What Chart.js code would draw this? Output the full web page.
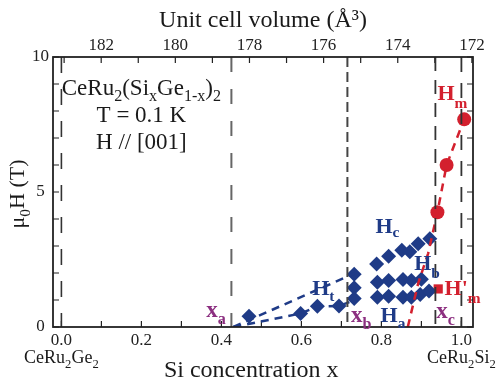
<!DOCTYPE html>
<html>
<head>
<meta charset="utf-8">
<script src="https://cdn.jsdelivr.net/npm/chart.js@4.4.1/dist/chart.umd.min.js"></script>
<style>
  html, body { margin: 0; padding: 0; background: #fff; }
</style>
</head>
<body>
<canvas id="chart" width="498" height="384"></canvas>
<script>
const FONT = "'Liberation Serif', 'Times New Roman', serif";
const BLUE = '#1f3b87';
const RED = '#d3202e';
const PURPLE = '#8c2f80';
const INK = '#1a1a1a';

// tick labels
const siTicks = [0, 0.2, 0.4, 0.6, 0.8, 1.0];
const volumeTicks = [172, 174, 176, 178, 180, 182];
const fieldTicks = [0, 5, 10];

// blue diamonds (Ht, Ha, Hb, Hc)
const diamondX = [0.469, 0.598, 0.64, 0.694,
    0.732, 0.732, 0.732,
    0.788, 0.818, 0.851, 0.871, 0.892, 0.921,
    0.79, 0.818, 0.854, 0.875, 0.9,
    0.79, 0.818, 0.854, 0.875, 0.897, 0.919];
const diamondH = [0.4, 0.5, 0.77, 0.78,
    1.95, 1.45, 1.06,
    2.33, 2.62, 2.84, 2.79, 3.08, 3.27,
    1.66, 1.72, 1.76, 1.72, 1.77,
    1.1, 1.14, 1.1, 1.1, 1.2, 1.33];

// red circles (Hm) and red square (H'm)
const hmX = [0.94, 0.963, 1.007];
const hmH = [4.25, 6.0, 7.69];
const hmPrimeX = [0.942];
const hmPrimeH = [1.41];

// dashed guide lines
const htLowerX = [0.43, 0.598, 0.64, 0.694, 0.72];
const htLowerH = [0, 0.5, 0.76, 0.78, 0.92];
const htUpperX = [0.43, 0.75];
const htUpperH = [0, 2.1];
const hmLineX = [0.866, 0.892, 0.917, 0.94, 0.963, 1.007, 1.012];
const hmLineH = [0, 1.62, 2.73, 4.25, 6.0, 7.7, 7.97];

// vertical boundaries: x=0, xa, xb, xc, x=1
const boundaryX = [0, 0.425, 0.715, 0.935, 1.0];
const boundaryStyle = [
    { color: '#333', dash: [16, 16], width: 1.6 },
    { color: '#666', dash: [15, 17], width: 2 },
    { color: '#444', dash: [10, 5], width: 2 },
    { color: '#333', dash: [14, 9], width: 1.8 },
    { color: '#333', dash: [15, 11], width: 1.8 }
];

const pts = (xs, hs) => xs.map((x, i) => ({ x, y: hs[i] }));

const notes = [
    { parts: [['CeRu'], ['2', 'sub'], ['(Si'], ['x', 'sub'], ['Ge'], ['1-x', 'sub'], [')'], ['2', 'sub']], x: 0.2, h: 8.59, size: 23, color: INK, align: 'center', sub: 0.26 },
    { parts: [['T = 0.1 K']], x: 0.2, h: 7.6, size: 23, color: INK, align: 'center' },
    { parts: [['H // [001]']], x: 0.2, h: 6.6, size: 23, color: INK, align: 'center' },
    { parts: [['H'], ['m', 'sub']], x: 0.94, h: 8.41, size: 22, color: RED, bold: true, sub: 0.35 },
    { parts: [['H'], ['c', 'sub']], x: 0.785, h: 3.5, size: 22, color: BLUE, bold: true, sub: 0.2 },
    { parts: [['H'], ['b', 'sub']], x: 0.882, h: 2.11, size: 22, color: BLUE, bold: true, sub: 0.35 },
    { parts: [['H'], ['t', 'sub']], x: 0.627, h: 1.19, size: 22, color: BLUE, bold: true, sub: 0.3 },
    { parts: [['H'], ['a', 'sub']], x: 0.798, h: 0.2, size: 22, color: BLUE, bold: true, sub: 0.3 },
    { parts: [['H'], ["'"], ['m', 'sub']], x: 0.958, h: 1.19, size: 22, color: RED, bold: true, sub: 0.35 },
    { parts: [['x'], ['a', 'sub']], x: 0.362, h: 0.37, size: 23, color: PURPLE, bold: true, sub: 0.3 },
    { parts: [['x'], ['b', 'sub']], x: 0.724, h: 0.2, size: 23, color: PURPLE, bold: true, sub: 0.3 },
    { parts: [['x'], ['c', 'sub']], x: 0.937, h: 0.33, size: 23, color: PURPLE, bold: true, sub: 0.3 }
];

const endMembers = [
    { x: 0, parts: [['CeRu'], ['2', 'sub'], ['Ge'], ['2', 'sub']] },
    { x: 1, parts: [['CeRu'], ['2', 'sub'], ['Si'], ['2', 'sub']] }
];

function drawRich(ctx, parts, x, y, o) {
    const wt = o.bold ? 'bold ' : '';
    const segs = parts.map(([t, m]) => {
        const s = m ? o.size * 0.7 : o.size;
        ctx.font = `${wt}${s}px ${FONT}`;
        return { t, m, s, w: ctx.measureText(t).width };
    });
    const total = segs.reduce((a, g) => a + g.w, 0);
    let cx = o.align === 'center' ? x - total / 2 : x;
    ctx.fillStyle = o.color;
    ctx.textAlign = 'left';
    ctx.textBaseline = 'alphabetic';
    segs.forEach(g => {
        ctx.font = `${wt}${g.s}px ${FONT}`;
        const dy = g.m === 'sub' ? o.size * (o.sub ?? 0.28) : 0;
        ctx.fillText(g.t, cx, y + dy);
        cx += g.w;
    });
}

const decor = {
    id: 'decor',
    beforeDatasetsDraw(chart) {
        const { ctx, chartArea: a, scales } = chart;
        const len = 6;
        ctx.save();
        ctx.strokeStyle = '#222';
        ctx.lineWidth = 1.2;
        ctx.beginPath();
        scales.x.ticks.forEach(t => {
            const p = scales.x.getPixelForValue(t.value);
            ctx.moveTo(p, a.bottom); ctx.lineTo(p, a.bottom - len);
        });
        scales.x2.ticks.forEach(t => {
            const p = scales.x2.getPixelForValue(t.value);
            ctx.moveTo(p, a.top); ctx.lineTo(p, a.top + len);
        });
        scales.y.ticks.forEach(t => {
            const p = scales.y.getPixelForValue(t.value);
            ctx.moveTo(a.left, p); ctx.lineTo(a.left + len, p);
            ctx.moveTo(a.right, p); ctx.lineTo(a.right - len, p);
        });
        ctx.stroke();
        ctx.restore();
    },
    afterDraw(chart) {
        const { ctx, chartArea: a, scales } = chart;
        ctx.save();
        ctx.strokeStyle = '#222';
        ctx.lineWidth = 1.8;
        ctx.strokeRect(a.left, a.top, a.right - a.left, a.bottom - a.top);

        notes.forEach(n => drawRich(ctx, n.parts, scales.x.getPixelForValue(n.x), scales.y.getPixelForValue(n.h), n));

        endMembers.forEach(e => drawRich(ctx, e.parts, scales.x.getPixelForValue(e.x), a.bottom + 36,
            { size: 18, color: INK, align: 'center', sub: 0.25 }));

        // bottom axis title
        ctx.font = `24px ${FONT}`;
        ctx.fillStyle = INK;
        ctx.textAlign = 'center';
        ctx.textBaseline = 'alphabetic';
        ctx.fillText('Si concentration x', a.left + (a.right - a.left) * 0.472, a.bottom + 50);

        // left axis title, rotated
        ctx.translate(17, (a.top + a.bottom) / 2 + 2);
        ctx.rotate(-Math.PI / 2);
        drawRich(ctx, [['\u03bc'], ['0', 'sub'], ['H (T)']], 0, 7, { size: 22, color: INK, align: 'center', sub: 0.28 });
        ctx.restore();
    }
};

const line = (data, color, dash) => ({
    data, showLine: true, borderColor: color, borderWidth: 2.5, borderDash: dash,
    pointRadius: 0, fill: false
});

const datasets = [
    ...boundaryX.map((bx, i) => ({
        data: [{ x: bx, y: 10 }, { x: bx, y: 0 }],
        showLine: true, pointRadius: 0,
        borderColor: boundaryStyle[i].color,
        borderDash: boundaryStyle[i].dash,
        borderWidth: boundaryStyle[i].width
    })),
    line(pts(htLowerX, htLowerH), BLUE, [8, 6]),
    line(pts(htUpperX, htUpperH), BLUE, [8, 6]),
    line(pts(hmLineX, hmLineH), RED, [8, 6]),
    {
        data: pts(diamondX, diamondH), pointStyle: 'rectRot', pointRadius: 7.5,
        backgroundColor: BLUE, borderColor: BLUE, borderWidth: 0
    },
    {
        data: pts(hmX, hmH), pointStyle: 'circle', pointRadius: 7,
        backgroundColor: RED, borderColor: RED, borderWidth: 0
    },
    {
        data: pts(hmPrimeX, hmPrimeH), pointStyle: 'rect', pointRadius: 6.5,
        backgroundColor: RED, borderColor: RED, borderWidth: 0
    }
];

const tickFont = { family: FONT, size: 17 };

new Chart(document.getElementById('chart'), {
    type: 'scatter',
    data: { datasets },
    options: {
        responsive: false,
        animation: false,
        layout: { padding: { left: 0, right: 25, top: 0, bottom: 0 } },
        plugins: { legend: { display: false }, tooltip: { enabled: false } },
        scales: {
            x: {
                type: 'linear', position: 'bottom', min: -0.021, max: 1.029,
                border: { display: false },
                grid: { display: false, drawTicks: false },
                ticks: {
                    stepSize: 0.1, includeBounds: false, autoSkip: false, maxRotation: 0,
                    padding: 3, color: '#222', font: tickFont,
                    callback: v => siTicks.some(s => Math.abs(s - v) < 1e-6) ? v.toFixed(1) : ''
                },
                afterFit: s => { s.height = 57; }
            },
            x2: {
                type: 'linear', position: 'top', min: 171.97, max: 183.3, reverse: true,
                border: { display: false },
                grid: { display: false, drawTicks: false },
                ticks: {
                    stepSize: 1, includeBounds: false, autoSkip: false, maxRotation: 0,
                    padding: 1, color: '#222', font: tickFont,
                    callback: v => volumeTicks.includes(Math.round(v * 100) / 100) ? String(v) : ''
                },
                title: {
                    display: true, text: 'Unit cell volume (\u00c5\u00b3)', color: INK,
                    font: { family: FONT, size: 24 }, padding: { top: 6, bottom: 0 }
                },
                afterFit: s => { s.height = 57; }
            },
            y: {
                type: 'linear', position: 'left', min: 0, max: 10,
                border: { display: false },
                grid: { display: false, drawTicks: false },
                ticks: {
                    stepSize: 1, autoSkip: false, crossAlign: 'center',
                    padding: 4, color: '#222', font: tickFont,
                    callback: v => fieldTicks.includes(v) ? String(v) : ''
                },
                afterFit: s => { s.width = 53; }
            }
        }
    },
    plugins: [decor]
});
</script>
</body>
</html>
